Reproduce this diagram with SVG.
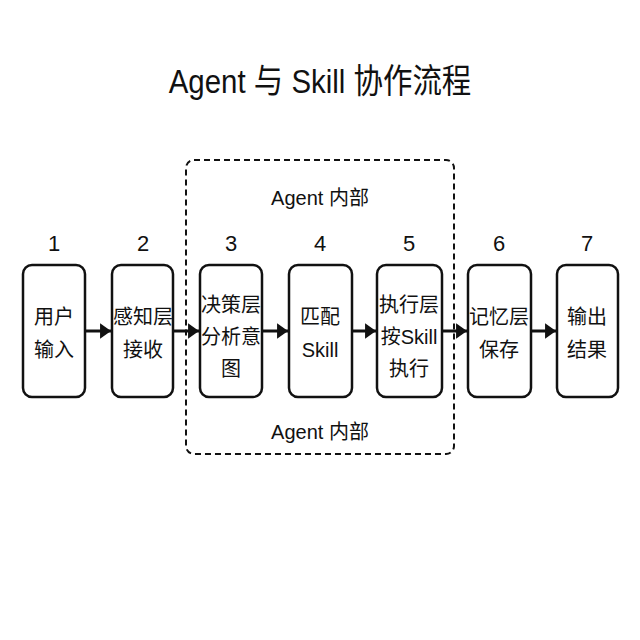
<svg xmlns="http://www.w3.org/2000/svg" width="640" height="640" viewBox="0 0 640 640">
<defs>
<style>
text{font-family:"Liberation Sans","Noto Sans CJK SC",sans-serif;fill:#111;text-anchor:middle}
.box{fill:#fff;stroke:#111;stroke-width:2.5}
.num{font-size:22px}
.lbl{font-size:20px;dominant-baseline:central}
.grp{font-size:20px}
.con{stroke:#111;stroke-width:3;fill:none;marker-end:url(#ah)}
</style>
<marker id="ah" viewBox="0 0 7 10" refX="7" refY="5" markerWidth="3.7" markerHeight="5.2" markerUnits="strokeWidth" orient="auto">
<path d="M0,0 L7,5 L0,10 z" fill="#111"/>
</marker>
</defs>
<rect width="640" height="640" fill="#fff"/>
<text x="0" y="0" font-size="32" transform="translate(320,93) scale(0.92,1.05)">Agent 与 Skill 协作流程</text>
<g id="agent-group">
<rect x="186" y="160" width="268" height="294" rx="8" fill="none" stroke="#111" stroke-width="2" stroke-dasharray="6,4"/>
<text class="grp" x="320" y="205">Agent 内部</text>
<text class="grp" x="320" y="439">Agent 内部</text>
</g>
<g id="connectors">
<line class="con" x1="86" y1="331" x2="111" y2="331"/>
<line class="con" x1="174" y1="331" x2="199" y2="331"/>
<line class="con" x1="263" y1="331" x2="288" y2="331"/>
<line class="con" x1="353" y1="331" x2="376" y2="331"/>
<line class="con" x1="443" y1="331" x2="467" y2="331"/>
<line class="con" x1="532" y1="331" x2="556" y2="331"/>
</g>
<g id="n1">
<text class="num" x="54" y="251">1</text>
<rect class="box" x="23" y="265" width="62" height="132" rx="9"/>
<text class="lbl" x="54" y="317">用户</text>
<text class="lbl" x="54" y="350">输入</text>
</g>
<g id="n2">
<text class="num" x="143" y="251">2</text>
<rect class="box" x="112" y="265" width="61" height="132" rx="9"/>
<text class="lbl" x="143" y="317">感知层</text>
<text class="lbl" x="143" y="350">接收</text>
</g>
<g id="n3">
<text class="num" x="231" y="251">3</text>
<rect class="box" x="200" y="265" width="62" height="132" rx="9"/>
<text class="lbl" x="231" y="305">决策层</text>
<text class="lbl" x="231" y="337">分析意</text>
<text class="lbl" x="231" y="369">图</text>
</g>
<g id="n4">
<text class="num" x="320" y="251">4</text>
<rect class="box" x="289" y="265" width="63" height="132" rx="9"/>
<text class="lbl" x="320" y="317">匹配</text>
<text class="lbl" x="320" y="350">Skill</text>
</g>
<g id="n5">
<text class="num" x="409" y="251">5</text>
<rect class="box" x="377" y="265" width="65" height="132" rx="9"/>
<text class="lbl" x="409" y="305">执行层</text>
<text class="lbl" x="409" y="337">按Skill</text>
<text class="lbl" x="409" y="369">执行</text>
</g>
<g id="n6">
<text class="num" x="499" y="251">6</text>
<rect class="box" x="468" y="265" width="63" height="132" rx="9"/>
<text class="lbl" x="499" y="317">记忆层</text>
<text class="lbl" x="499" y="350">保存</text>
</g>
<g id="n7">
<text class="num" x="587" y="251">7</text>
<rect class="box" x="557" y="265" width="61" height="132" rx="9"/>
<text class="lbl" x="587" y="317">输出</text>
<text class="lbl" x="587" y="350">结果</text>
</g>
</svg>
